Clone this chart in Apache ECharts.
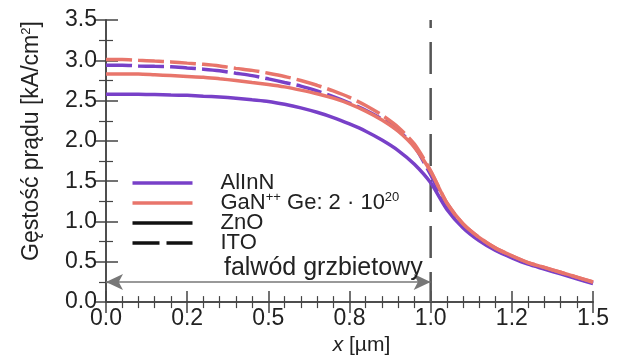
<!DOCTYPE html>
<html>
<head>
    <meta charset="utf-8">
    <title>Gestosc pradu</title>
    <script src="https://cdn.jsdelivr.net/npm/echarts@6/dist/echarts.min.js"></script>
	<style>
		html, body {margin: 0; padding: 0; background: #fff;}
		#chart {width: 626px; height: 361px;}
	</style>
</head>
<body>
	<div id="chart"></div>
    <script type="text/javascript">
		// pozycje wzdluz x [um], co 0.05
		var xs = [0, 0.05, 0.1, 0.15, 0.2, 0.25, 0.3, 0.35, 0.4, 0.45, 0.5, 0.55, 0.6, 0.65, 0.7, 0.75,
			0.8, 0.85, 0.9, 0.95, 1.0, 1.05, 1.1, 1.15, 1.2, 1.25, 1.3, 1.35, 1.4, 1.45, 1.5];
		// gestosc pradu [kA/cm2]
		var alinnZnO = [2.58, 2.58, 2.58, 2.575, 2.57, 2.565, 2.555, 2.545, 2.53, 2.51, 2.49, 2.455, 2.41, 2.355, 2.29, 2.21,
			2.12, 2.01, 1.88, 1.71, 1.48, 1.15, 0.92, 0.76, 0.64, 0.55, 0.47, 0.41, 0.35, 0.29, 0.23];
		var alinnITO = [2.94, 2.94, 2.93, 2.925, 2.92, 2.905, 2.89, 2.87, 2.84, 2.81, 2.77, 2.725, 2.68, 2.62, 2.55, 2.47,
			2.38, 2.27, 2.13, 1.93, 1.58, 1.18, 0.94, 0.78, 0.65, 0.56, 0.48, 0.42, 0.36, 0.30, 0.24];
		var ganZnO = [2.83, 2.83, 2.83, 2.82, 2.81, 2.80, 2.79, 2.77, 2.75, 2.725, 2.70, 2.67, 2.63, 2.585, 2.53, 2.46,
			2.37, 2.26, 2.12, 1.92, 1.62, 1.23, 0.97, 0.80, 0.67, 0.575, 0.49, 0.43, 0.37, 0.31, 0.25];
		var ganITO = [3.01, 3.01, 3.00, 2.99, 2.98, 2.965, 2.95, 2.93, 2.90, 2.875, 2.84, 2.80, 2.75, 2.69, 2.62, 2.54,
			2.44, 2.32, 2.17, 1.96, 1.63, 1.23, 0.97, 0.80, 0.67, 0.575, 0.49, 0.43, 0.37, 0.31, 0.25];
		var xTickLabels = ['0.0', '0.2', '0.5', '0.8', '1.0', '1.2', '1.5'];
		var ridgeEdge = 1.0;
		var arrowLevel = 0.25;

		var purple = '#7840c8';
		var salmon = '#e8756b';
		var font = "'Liberation Sans', Arial, sans-serif";

		function pairs(ys) {
			return xs.map(function (x, i) { return [x, ys[i]]; });
		}

		function curve(name, ys, color, dashed) {
			return {
				name: name,
				type: 'line',
				data: pairs(ys),
				showSymbol: false,
				smooth: 0.25,
				lineStyle: {color: color, width: 3.5, type: dashed ? [26, 6] : 'solid'},
				z: 3
			};
		}

		var axisLine = {show: true, lineStyle: {color: '#444', width: 1.5}};

		var chart = echarts.init(document.getElementById('chart'));
		var option = {
			animation: false,
			grid: {left: 106, right: 33, top: 20, bottom: 58},
			xAxis: [{
				type: 'value', min: 0, max: 1.5, interval: 0.25,
				axisLine: axisLine,
				axisTick: {inside: true, length: 11, lineStyle: {color: '#444', width: 1.5}},
				minorTick: {show: true, splitNumber: 5, length: 6, lineStyle: {color: '#444', width: 1.2}},
				splitLine: {show: false},
				axisLabel: {
					color: '#222', fontSize: 23, fontFamily: font, margin: 5,
					formatter: function (v) { return xTickLabels[Math.round(v / 0.25)]; }
				},
				name: '{i|x} [µm]', nameLocation: 'middle', nameGap: 31,
				nameTextStyle: {color: '#222', fontSize: 21, fontFamily: font, padding: [0, 0, 0, 24],
					rich: {i: {fontStyle: 'italic', fontSize: 21, fontFamily: font, color: '#222'}}}
			}, {
				type: 'value', min: 0, max: 1.5, interval: 0.25, position: 'top',
				axisLine: axisLine,
				axisTick: {inside: true, length: 11, lineStyle: {color: '#444', width: 1.5}},
				minorTick: {show: true, splitNumber: 5, length: 6, lineStyle: {color: '#444', width: 1.2}},
				splitLine: {show: false}, axisLabel: {show: false}
			}],
			yAxis: [{
				type: 'value', min: 0, max: 3.5, interval: 0.5,
				axisLine: axisLine,
				axisTick: {inside: true, length: 12, lineStyle: {color: '#444', width: 1.5}},
				minorTick: {show: true, splitNumber: 2, length: 7, lineStyle: {color: '#444', width: 1.2}},
				splitLine: {show: false},
				axisLabel: {color: '#222', fontSize: 23, fontFamily: font, margin: 9,
					formatter: function (v) { return v.toFixed(1); }},
				name: 'Gęstość prądu [kA/cm{s|2}]', nameLocation: 'middle', nameGap: 62,
				nameTextStyle: {color: '#222', fontSize: 23, fontFamily: font, padding: [0, 0, 0, 40],
					rich: {s: {fontSize: 13, fontFamily: font, color: '#222', padding: [0, 0, 11, 0]}}}
			}, {
				type: 'value', min: 0, max: 3.5, interval: 0.5, position: 'right',
				axisLine: axisLine,
				axisTick: {inside: true, length: 12, lineStyle: {color: '#444', width: 1.5}},
				minorTick: {show: true, splitNumber: 2, length: 7, lineStyle: {color: '#444', width: 1.2}},
				splitLine: {show: false}, axisLabel: {show: false}
			}],
			series: [
				{
					name: 'granica',
					type: 'line',
					data: [[ridgeEdge, 3.5], [ridgeEdge, 0]],
					showSymbol: false,
					lineStyle: {color: '#555', width: 2.5, type: [32, 14], dashOffset: 24},
					z: 2,
					markLine: {
						silent: true,
						symbol: ['arrow', 'arrow'],
						symbolSize: [12, 17],
						lineStyle: {color: '#777', width: 1.5, type: 'solid'},
						label: {
							show: true, position: 'insideEndTop', distance: [8, 1],
							formatter: 'falwód grzbietowy',
							color: '#222', fontSize: 25, fontFamily: font
						},
						data: [[{coord: [0, arrowLevel]}, {coord: [ridgeEdge, arrowLevel]}]]
					}
				},
				curve('AlInN ZnO', alinnZnO, purple, false),
				curve('AlInN ITO', alinnITO, purple, true),
				curve('GaN ZnO', ganZnO, salmon, false),
				curve('GaN ITO', ganITO, salmon, true)
			],
			graphic: [{
				type: 'group', left: 130, top: 172,
				children: [
					{type: 'line', shape: {x1: 0, y1: 10, x2: 60, y2: 10}, style: {stroke: purple, lineWidth: 3.5}},
					{type: 'line', shape: {x1: 0, y1: 30, x2: 60, y2: 30}, style: {stroke: salmon, lineWidth: 3.5}},
					{type: 'line', shape: {x1: 0, y1: 50, x2: 60, y2: 50}, style: {stroke: '#111', lineWidth: 3.5}},
					{type: 'line', shape: {x1: 0, y1: 70, x2: 60, y2: 70}, style: {stroke: '#111', lineWidth: 3.5, lineDash: [27, 7]}},
					{type: 'text', x: 88, y: 10, style: {text: 'AlInN', fill: '#222', font: '22px ' + font, verticalAlign: 'middle'}},
					{type: 'text', x: 88, y: 30, style: {
						text: '{n|GaN}{s|++}{n| Ge: 2 · 10}{s|20}', verticalAlign: 'middle',
						rich: {
							n: {fontSize: 22, fontFamily: font, fill: '#222'},
							s: {fontSize: 13, fontFamily: font, fill: '#222', padding: [0, 0, 11, 0]}
						}
					}},
					{type: 'text', x: 88, y: 50, style: {text: 'ZnO', fill: '#222', font: '22px ' + font, verticalAlign: 'middle'}},
					{type: 'text', x: 88, y: 70, style: {text: 'ITO', fill: '#222', font: '22px ' + font, verticalAlign: 'middle'}}
				]
			}]
		};
		chart.setOption(option);
    </script>
</body>
</html>
